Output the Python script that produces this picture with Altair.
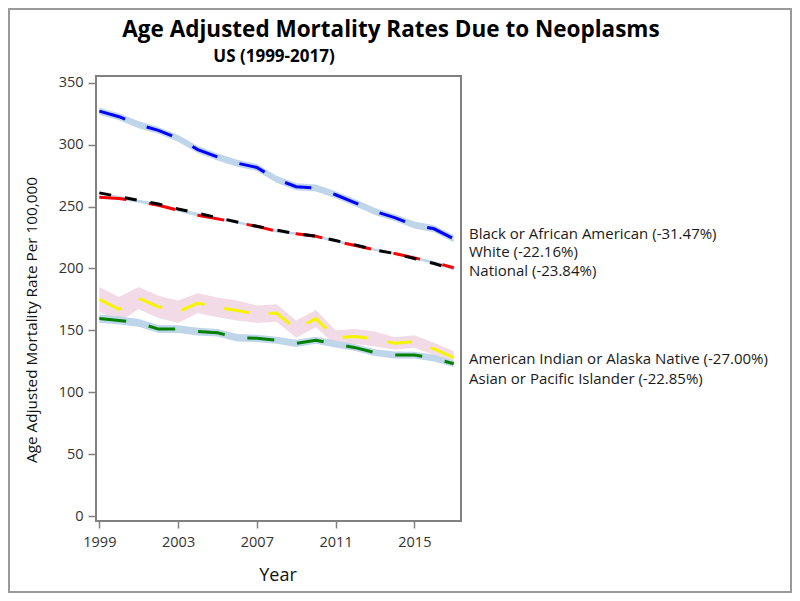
import altair as alt
import pandas as pd

years = list(range(1999, 2018))

groups = ["Black or African American", "White", "National",
          "American Indian or Alaska Native", "Asian or Pacific Islander"]
labels = ["Black or African American (-31.47%)", "White (-22.16%)", "National (-23.84%)",
          "American Indian or Alaska Native (-27.00%)", "Asian or Pacific Islander (-22.85%)"]

black = [327, 322.5, 316, 311.5, 305, 296, 290, 285, 281.5, 272, 266, 265, 259.5, 253, 246, 241, 235, 232, 224]
white = [257.5, 256.5, 254, 251, 247, 243, 240, 237, 234, 230, 228, 226, 222, 218.5, 215, 212, 208.5, 205, 200.5]
national = [261, 258, 255, 252, 248, 244.5, 241, 237.5, 234, 231, 228, 226, 222.5, 219, 215, 212, 208, 204, 199]
aian = [175, 167, 176, 169, 165, 172, 168.5, 166, 163, 164, 151, 159.5, 144, 145, 143, 139.5, 141, 135, 128]
asian = [159.5, 158, 156, 151, 151, 149, 148, 144, 143.5, 142, 139.5, 142, 139, 136, 132, 130, 130, 127.5, 123]

# confidence half-widths
black_ci = [2.8, 2.8, 2.8, 2.8, 2.8, 2.8, 2.8, 2.8, 2.8, 2.8, 2.8, 2.8, 2.8, 2.8, 2.8, 2.8, 2.8, 2.8, 2.8]
white_ci = [1.0, 1.0, 1.0, 1.0, 1.0, 1.0, 1.0, 1.0, 1.0, 1.0, 1.0, 1.0, 1.0, 1.0, 1.0, 1.0, 1.0, 1.0, 1.0]
national_ci = [0.5, 0.5, 0.5, 0.5, 0.5, 0.5, 0.5, 0.5, 0.5, 0.5, 0.5, 0.5, 0.5, 0.5, 0.5, 0.5, 0.5, 0.5, 0.5]
aian_ci = [10, 10, 9, 9, 9, 8, 8, 8, 7, 7, 7, 7, 6, 6, 6, 5, 5, 5, 5]
asian_ci = [3.3, 3.3, 3.2, 3.2, 3.1, 3.1, 3.0, 3.0, 3.0, 2.9, 2.9, 2.9, 2.8, 2.8, 2.8, 2.8, 2.7, 2.7, 2.7]

series = [black, white, national, aian, asian]
cis = [black_ci, white_ci, national_ci, aian_ci, asian_ci]

line_colors = ["#0000ff", "#ff0000", "#000000", "#f5f500", "#008000"]
band_colors = ["#bfd5ea", "#bfd5ea", "#bfd5ea", "#f2dbe6", "#bfd5ea"]
dashes = [[27, 23], [27, 23], [12, 14], [25, 20], [27, 23]]
label_dy = [-5, -16, 1, 1.5, 15]

rows = []
for g, vals, ci in zip(groups, series, cis):
    for y, v, c in zip(years, vals, ci):
        rows.append({"group": g, "year": y, "rate": v, "lo": v - c, "hi": v + c})
df = pd.DataFrame(rows)

W, H = 365, 445
FONT = "Open Sans"

xs = alt.Scale(domain=[1998.83, 2017.37], nice=False, zero=False)
ys = alt.Scale(domain=[-4, 355.4], nice=False, zero=False)

xaxis = alt.Axis(values=[1999, 2003, 2007, 2011, 2015], format="d", title=None,
                 domain=False, grid=False, tickSize=7, tickColor="#808080", tickWidth=1.5,
                 labelFont=FONT, labelFontSize=14.5, labelColor="#333", labelPadding=7)
yaxis = alt.Axis(values=[0, 50, 100, 150, 200, 250, 300, 350], title=None,
                 domain=False, grid=False, tickSize=8, tickColor="#808080", tickWidth=1.5,
                 labelFont=FONT, labelFontSize=14.5, labelColor="#333", labelPadding=5)

base = alt.Chart(df)

bands = base.mark_area(opacity=1).encode(
    x=alt.X("year:Q", scale=xs, axis=xaxis),
    y=alt.Y("lo:Q", scale=ys, axis=yaxis),
    y2="hi:Q",
    fill=alt.Fill("group:N", scale=alt.Scale(domain=groups, range=band_colors), legend=None),
    detail="group:N",
)

lines = base.mark_line(strokeWidth=3).encode(
    x=alt.X("year:Q", scale=xs),
    y=alt.Y("rate:Q", scale=ys),
    stroke=alt.Stroke("group:N", scale=alt.Scale(domain=groups, range=line_colors), legend=None),
    strokeDash=alt.StrokeDash("group:N", scale=alt.Scale(domain=groups, range=dashes), legend=None),
    detail="group:N",
)

layers = [bands, lines]

for g, lab, vals, dy in zip(groups, labels, series, label_dy):
    t = alt.Chart(pd.DataFrame({"year": [years[-1]], "rate": [vals[-1]], "label": [lab]})).mark_text(
        align="left", baseline="middle", font=FONT, fontSize=15, color="#1a1a1a", dy=dy
    ).encode(
        x=alt.value(W + 8),
        y=alt.Y("rate:Q", scale=ys),
        text="label:N",
    )
    layers.append(t)

title_df = pd.DataFrame({"t": ["Age Adjusted Mortality Rates Due to Neoplasms"]})
title = alt.Chart(title_df).mark_text(
    align="center", baseline="alphabetic", font=FONT, fontSize=22.5, fontWeight="bold", color="#000"
).encode(x=alt.value(295), y=alt.value(-39), text="t:N")

sub_df = pd.DataFrame({"t": ["US (1999-2017)"]})
subtitle = alt.Chart(sub_df).mark_text(
    align="center", baseline="alphabetic", font=FONT, fontSize=17, fontWeight="bold", color="#000"
).encode(x=alt.value(178), y=alt.value(-14), text="t:N")

ytitle_df = pd.DataFrame({"t": ["Age Adjusted Mortality Rate Per 100,000"]})
ytitle = alt.Chart(ytitle_df).mark_text(
    align="center", baseline="middle", angle=270, font=FONT, fontSize=15.3, color="#111"
).encode(x=alt.value(-64), y=alt.value(244), text="t:N")

xtitle_df = pd.DataFrame({"t": ["Year"]})
xtitle = alt.Chart(xtitle_df).mark_text(
    align="center", baseline="alphabetic", font=FONT, fontSize=18, color="#111"
).encode(x=alt.value(182), y=alt.value(505), text="t:N")

border = alt.Chart(pd.DataFrame({"a": [0]})).mark_rect(
    fill=None, stroke="#999", strokeWidth=2
).encode(x=alt.value(-87), x2=alt.value(W + 330), y=alt.value(-67), y2=alt.value(H + 71))

layers += [title, subtitle, ytitle, xtitle, border]

chart = alt.layer(*layers).properties(
    width=W, height=H,
    background="white",
    autosize=alt.AutoSizeParams(type="none"),
    padding={"left": 88, "top": 68, "right": 331, "bottom": 72},
).configure_view(
    stroke="#808080", strokeWidth=2
)

chart.save("out.html", embed_options={"renderer": "svg", "actions": False})
